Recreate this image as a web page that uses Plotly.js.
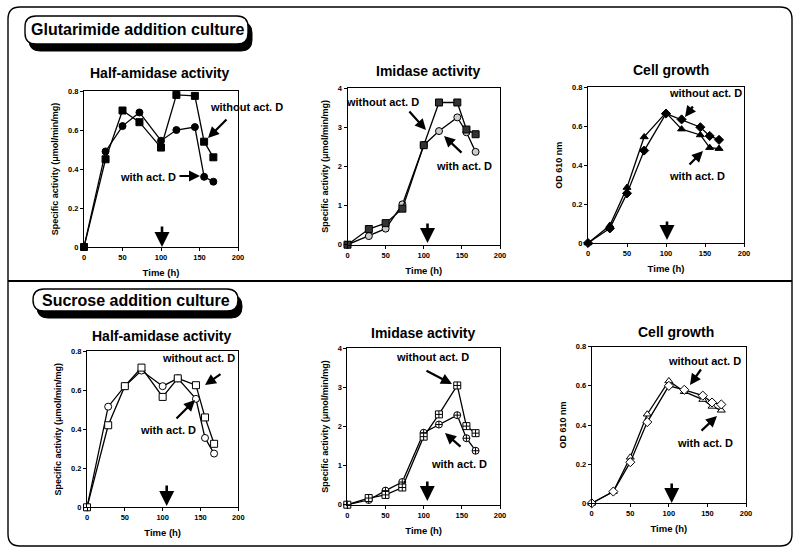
<!DOCTYPE html>
<html><head><meta charset="utf-8">
<script src="https://cdn.plot.ly/plotly-3.0.1.min.js"></script>
<style>html,body{margin:0;padding:0;background:#fff}#chart{width:800px;height:554px}</style>
</head><body><div id="chart"></div>
<script>
// ---------- data ----------
const time = [0, 28, 50, 72, 100, 120, 144, 156, 168];

const glutHalfWithout = [0, 0.45, 0.70, 0.64, 0.51, 0.78, 0.775, 0.54, 0.46];
const glutHalfWith    = [0, 0.49, 0.62, 0.69, 0.545, 0.60, 0.615, 0.36, 0.335];
const glutImiWithout  = [0, 0.40, 0.55, 0.92, 2.54, 3.63, 3.63, 2.94, 2.82];
const glutImiWith     = [0, 0.22, 0.41, 1.03, 2.54, 2.90, 3.25, 2.87, 2.37];
const glutOdWithout   = [0, 0.075, 0.255, 0.475, 0.665, 0.635, 0.595, 0.55, 0.53];
const glutOdWith      = [0, 0.09, 0.285, 0.545, 0.67, 0.585, 0.555, 0.49, 0.485];

const sucHalfWithout  = [0, 0.42, 0.62, 0.715, 0.565, 0.66, 0.625, 0.46, 0.325];
const sucHalfWith     = [0, 0.515, 0.62, 0.70, 0.62, 0.66, 0.555, 0.355, 0.275];
const sucImiWithout   = [0, 0.17, 0.25, 0.44, 1.74, 2.31, 3.05, 2.01, 1.83];
const sucImiWith      = [0, 0.12, 0.36, 0.58, 1.84, 2.05, 2.29, 1.70, 1.38];
const sucOdWithout    = [0, 0.06, 0.21, 0.415, 0.60, 0.58, 0.55, 0.515, 0.505];
const sucOdWith       = [0, 0.06, 0.235, 0.455, 0.625, 0.57, 0.53, 0.495, 0.475];

const timeTicks = [0, 50, 100, 150, 200];
const actTicks = [0, 0.2, 0.4, 0.6, 0.8];
const imiTicks = [0, 1, 2, 3, 4];

const sectionTitles = ['Glutarimide addition culture', 'Sucrose addition culture'];
const panelTitles = ['Half-amidase activity', 'Imidase activity', 'Cell growth'];
const actTitle = 'Specific activity (μmol/min/mg)';
const odTitle = 'OD 610 nm';
const timeTitle = 'Time (h)';
const labelWithout = 'without act. D';
const labelWith = 'with act. D';

// ---------- layout helpers ----------
const W = 800, H = 554;
const SANS = "'Liberation Sans', Arial, Helvetica, sans-serif";
const px = x => x / W, py = y => 1 - y / H;

const panels = [
  {box:[84,91,238,247], yTicks:actTicks, yMax:0.8, yTitle:actTitle, title:panelTitles[0], tpos:[159,73],
   without:glutHalfWithout, with:glutHalfWith,
   mWithout:{symbol:'square', size:7, color:'#000'}, mWith:{symbol:'circle', size:7, color:'#000'},
   tWithout:[246,107], aWithout:[208,138,228,118], tWith:[148,177], aWith:[200,176,178,176], down:[162,225,247]},
  {box:[347.5,88,500,244.7], yTicks:imiTicks, yMax:4, yTitle:actTitle, title:panelTitles[1], tpos:[428,71],
   without:glutImiWithout, with:glutImiWith,
   mWithout:{symbol:'square', size:7, color:'#333'}, mWith:{symbol:'circle', size:7, color:'#ccc'},
   tWithout:[382,102], aWithout:[426,130,408,110], tWith:[464,166], aWith:[444,136,463,154], down:[427.5,222,243]},
  {box:[588,87.3,744,243], yTicks:actTicks, yMax:0.8, yTitle:odTitle, title:panelTitles[2], tpos:[671,70],
   without:glutOdWithout, with:glutOdWith,
   mWithout:{symbol:'diamond', size:7, color:'#000'}, mWith:{symbol:'triangle-up', size:7, color:'#000'},
   tWithout:[705,93], aWithout:[685,117,694,105], tWith:[697,176], aWith:[703,151,688,166], down:[667,220,240]},
  {box:[87,351,238.3,507.3], yTicks:actTicks, yMax:0.8, yTitle:actTitle, title:panelTitles[0], tpos:[161,336],
   without:sucHalfWithout, with:sucHalfWith,
   mWithout:{symbol:'square', size:7, color:'#fff'}, mWith:{symbol:'circle', size:7, color:'#fff'},
   tWithout:[198,358], aWithout:[205,385,222,373], tWith:[168,430], aWith:[195,400,175,420], down:[166.7,484,506]},
  {box:[347.3,348.3,500,504.7], yTicks:imiTicks, yMax:4, yTitle:actTitle, title:panelTitles[1], tpos:[423,333],
   without:sucImiWithout, with:sucImiWith,
   mWithout:{symbol:'square-cross', size:7, color:'#fff'}, mWith:{symbol:'circle-cross', size:7, color:'#fff'},
   tWithout:[432,357], aWithout:[452,384,425,370], tWith:[459,464], aWith:[445,433,462,448], down:[427.3,480,501]},
  {box:[591.7,346.7,746,503.3], yTicks:actTicks, yMax:0.8, yTitle:odTitle, title:panelTitles[2], tpos:[676,332],
   without:sucOdWithout, with:sucOdWith,
   mWithout:{symbol:'diamond', size:7, color:'#fff'}, mWith:{symbol:'triangle-up', size:7, color:'#fff'},
   tWithout:[704,361], aWithout:[690,385,702,368], tWith:[705,443], aWith:[717,416,700,432], down:[671.7,482,503]}
];

const data = [];
const layout = {
  width: W, height: H, margin:{l:0,r:0,t:0,b:0},
  paper_bgcolor:'#fff', plot_bgcolor:'#fff', showlegend:false,
  font:{family:SANS, color:'#000'},
  annotations:[], shapes:[]
};

function textAnn(t, x, y, size) {
  layout.annotations.push({text:t, x:px(x), y:py(y), xref:'paper', yref:'paper',
    xanchor:'center', yanchor:'middle', showarrow:false,
    font:{family:SANS, size:size, color:'#000', weight:700}});
}
function arrowAnn(hx, hy, tx, ty, w, sz) {
  layout.annotations.push({text:'', x:px(hx), y:py(hy), xref:'paper', yref:'paper',
    ax:tx-hx, ay:ty-hy, axref:'pixel', ayref:'pixel', showarrow:true,
    arrowhead:2, arrowsize:sz||1, arrowwidth:w||2.2, arrowcolor:'#000', standoff:0, startstandoff:0});
}

panels.forEach((p, i) => {
  const n = i ? String(i + 1) : '';
  const xa = 'x' + n, ya = 'y' + n;
  const line = {color:'#000', width:1.3};
  data.push({x:time, y:p.with, xaxis:xa, yaxis:ya, type:'scatter', mode:'lines+markers', cliponaxis:false,
    line:line, marker:Object.assign({line:{color:'#000', width:1}}, p.mWith), name:labelWith});
  data.push({x:time, y:p.without, xaxis:xa, yaxis:ya, type:'scatter', mode:'lines+markers', cliponaxis:false,
    line:line, marker:Object.assign({line:{color:'#000', width:1}}, p.mWithout), name:labelWithout});

  const common = {showline:true, linecolor:'#000', linewidth:1, mirror:true, showgrid:false, zeroline:false,
    ticks:'outside', ticklen:3, tickwidth:1, tickcolor:'#000', fixedrange:true,
    tickfont:{family:SANS, size:7.5, color:'#000', weight:700}};
  layout['xaxis' + n] = Object.assign({}, common, {
    domain:[px(p.box[0]), px(p.box[2])], anchor:ya, range:[0, 200], tickvals:timeTicks,
    title:{text:timeTitle, font:{family:SANS, size:9.5, color:'#000', weight:700}, standoff:8}});
  layout['yaxis' + n] = Object.assign({}, common, {
    domain:[py(p.box[3]), py(p.box[1])], anchor:xa, range:[0, p.yMax], tickvals:p.yTicks,
    title:{text:p.yTitle, font:{family:SANS, size:9, color:'#000', weight:700}, standoff:7}});

  textAnn(p.title, p.tpos[0], p.tpos[1], 14);
  textAnn(labelWithout, p.tWithout[0], p.tWithout[1], 11);
  textAnn(labelWith, p.tWith[0], p.tWith[1], 11);
  arrowAnn(p.aWithout[0], p.aWithout[1], p.aWithout[2], p.aWithout[3], 2.2);
  arrowAnn(p.aWith[0], p.aWith[1], p.aWith[2], p.aWith[3], 2.2);
  arrowAnn(p.down[0], p.down[2], p.down[0], p.down[1], 2.6, 1.15);
});

// ---------- frames ----------
const P = (x, y) => px(x) + ',' + py(y);
function rr(x0, y0, x1, y1, r) {
  return 'M' + P(x0 + r, y0) + ' L' + P(x1 - r, y0) + ' Q' + P(x1, y0) + ' ' + P(x1, y0 + r) +
    ' L' + P(x1, y1 - r) + ' Q' + P(x1, y1) + ' ' + P(x1 - r, y1) +
    ' L' + P(x0 + r, y1) + ' Q' + P(x0, y1) + ' ' + P(x0, y1 - r) +
    ' L' + P(x0, y0 + r) + ' Q' + P(x0, y0) + ' ' + P(x0 + r, y0) + ' Z';
}
const frameLine = {color:'#000', width:1.4};
layout.shapes.push({type:'path', xref:'paper', yref:'paper', line:frameLine,
  path:'M' + P(8, 281) + ' L' + P(8, 19) + ' Q' + P(8, 7) + ' ' + P(20, 7) + ' L' + P(780, 7) +
       ' Q' + P(792, 7) + ' ' + P(792, 19) + ' L' + P(792, 281)});
layout.shapes.push({type:'path', xref:'paper', yref:'paper', line:frameLine,
  path:'M' + P(8, 281) + ' L' + P(8, 534) + ' Q' + P(8, 546) + ' ' + P(20, 546) + ' L' + P(780, 546) +
       ' Q' + P(792, 546) + ' ' + P(792, 534) + ' L' + P(792, 281)});
layout.shapes.push({type:'line', xref:'paper', yref:'paper', x0:px(8), x1:px(792), y0:py(281), y1:py(281),
  line:{color:'#000', width:2}});

const boxes = [[25,16,248,44,137,30,sectionTitles[0]], [33,289,238,311,136,300,sectionTitles[1]]];
boxes.forEach(b => {
  layout.shapes.push({type:'path', xref:'paper', yref:'paper', fillcolor:'#000', line:{color:'#000', width:1},
    path: rr(b[0] + 4, b[1] + 6, b[2] + 4, b[3] + 7, 11)});
  layout.shapes.push({type:'path', xref:'paper', yref:'paper', fillcolor:'#fff', line:{color:'#000', width:1.4},
    path: rr(b[0], b[1], b[2], b[3], 11)});
  textAnn(b[6], b[4], b[5], 16);
});

Plotly.newPlot('chart', data, layout, {staticPlot:true, displayModeBar:false});
</script></body></html>
